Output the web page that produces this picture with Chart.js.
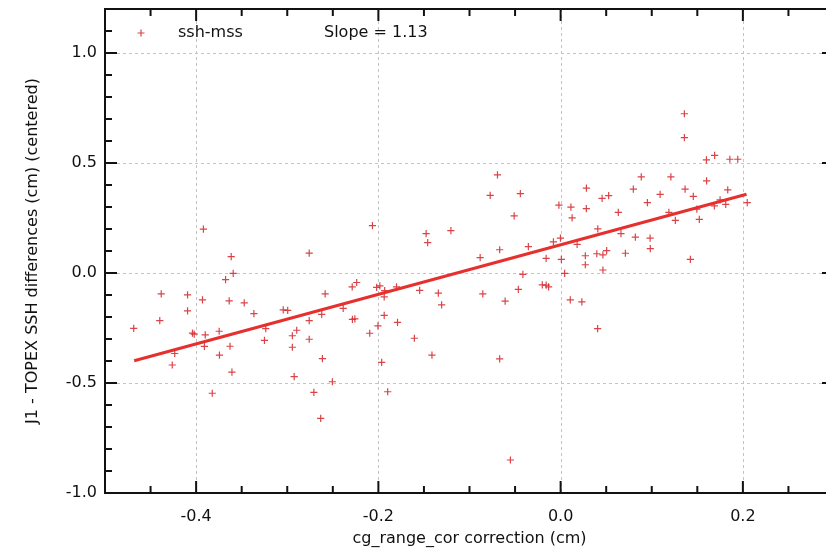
<!DOCTYPE html>
<html><head><meta charset="utf-8">
<script src="https://cdn.jsdelivr.net/npm/chart.js@4/dist/chart.umd.min.js"></script>
<style>
html,body{margin:0;padding:0;overflow:hidden;background:#fff;width:826px;height:551px}
canvas{display:block}
</style></head>
<body><canvas id="c" width="850" height="551" style="width:850px;height:551px"></canvas>
<script>
// ---- data ----
const xVals = [
 -0.4685,-0.4383,-0.4399,-0.4262,-0.4235,-0.4094,-0.4094,-0.4040,-0.4021,-0.3930,
 -0.3900,-0.3909,-0.3823,-0.3747,-0.3744,-0.3677,-0.3615,-0.3593,-0.3637,-0.3628,
 -0.3607,-0.3472,-0.3366,-0.3236,-0.3250,-0.3044,-0.2995,-0.2944,-0.2896,-0.2944,
 -0.2924,-0.2759,-0.2759,-0.2759,-0.2708,-0.2633,-0.2614,-0.2622,-0.2584,-0.2505,
 -0.2386,-0.2287,-0.2238,-0.2285,-0.2258,-0.2095,-0.2019,-0.1984,-0.2005,-0.1931,
 -0.1936,-0.1936,-0.1964,-0.1898,-0.1801,-0.1790,-0.1605,-0.1547,-0.1412,-0.1342,
 -0.1306,-0.3920,-0.2065,-0.1476,-0.1459,-0.1204,-0.0883,-0.0854,-0.0773,-0.0693,
 -0.0669,-0.0669,-0.0609,-0.0551,-0.0510,-0.0442,-0.0464,-0.0414,-0.0354,-0.0201,
 -0.0159,-0.0132,-0.0159,-0.0079,-0.0002, 0.0008, 0.0044,-0.0019, 0.0113, 0.0126,
  0.0181, 0.0106, 0.0233, 0.0271, 0.0271, 0.0283, 0.0282, 0.0397, 0.0464, 0.0505,
  0.0464, 0.0406, 0.0408, 0.0455, 0.0527, 0.0633, 0.0662, 0.0711, 0.0798, 0.0820,
  0.0885, 0.0952, 0.0982, 0.0984, 0.1092, 0.1188, 0.1210, 0.1259, 0.1358, 0.1358,
  0.1366, 0.1424, 0.1456, 0.1495, 0.1522, 0.1600, 0.1690, 0.1602, 0.1687, 0.1750,
  0.1812, 0.1834, 0.1857, 0.1944, 0.2048
];
const yVals = [
 -0.2517,-0.0952,-0.2163,-0.4181,-0.3660,-0.0998,-0.1719,-0.2730,-0.2775,-0.1224,
 -0.2812,-0.3333,-0.5465,-0.2648,-0.3737,-0.0304, 0.0748,-0.0018,-0.1270,-0.3329,
 -0.4508,-0.1356,-0.1846,-0.2526,-0.3061,-0.1673,-0.1701,-0.2853,-0.2603,-0.3374,
 -0.4712, 0.0907,-0.2163,-0.3011,-0.5428,-0.6607,-0.3896,-0.1877,-0.0952,-0.4943,
 -0.1605,-0.0630,-0.0431,-0.2109,-0.2082,-0.2739,-0.0653,-0.0585,-0.2404,-0.0803,
 -0.1088,-0.1927,-0.4059,-0.5397,-0.0630,-0.2245,-0.2966,-0.0789,-0.3737,-0.0916,
 -0.1447, 0.1995, 0.2154, 0.1791, 0.1383, 0.1927, 0.0703,-0.0952, 0.3528, 0.4458,
  0.1057,-0.3900,-0.1279,-0.8499, 0.2599, 0.3605,-0.0748,-0.0063, 0.1202,-0.0544,
 -0.0553,-0.0630, 0.0662, 0.1419, 0.1587, 0.0617,-0.0018, 0.3084, 0.2993, 0.2508,
  0.1302,-0.1224,-0.1311, 0.0785, 0.0376, 0.3855, 0.2925, 0.0875, 0.0821, 0.1020,
  0.0136,-0.2526, 0.2009, 0.3392, 0.3519, 0.2757, 0.1791, 0.0898, 0.3810, 0.1633,
  0.4367, 0.3202, 0.1587, 0.1111, 0.3574, 0.2757, 0.4367, 0.2394, 0.7238, 0.6150,
  0.3810, 0.0617, 0.3483, 0.2907, 0.2440, 0.5138, 0.5351, 0.4186, 0.3052, 0.3324,
  0.3120, 0.3778, 0.5170, 0.5170, 0.3202
];
const fitX = [-0.468, 0.204];
const fitY = [-0.399, 0.358];
const xTicks = [-0.4, -0.2, 0.0, 0.2];
const yTicks = [-1.0, -0.5, 0.0, 0.5, 1.0];
const xMinorStep = 0.05, yMinorStep = 0.1;
const seriesName = 'ssh-mss';
const slopeText = 'Slope = 1.13';
const xTitle = 'cg_range_cor correction (cm)';
const yTitle = 'J1 - TOPEX SSH differences (cm) (centered)';

const FONT = 'DejaVu Sans';
const pts = xVals.map((x, i) => ({x, y: yVals[i]}));
const fit = fitX.map((x, i) => ({x, y: fitY[i]}));

const frame = {
  id: 'frame',
  beforeDatasetsDraw(chart) {
    const {ctx, chartArea: a, scales: {x, y}} = chart;
    ctx.save();
    ctx.strokeStyle = '#c4c4c4';
    ctx.lineWidth = 1;
    ctx.setLineDash([3, 3]);
    xTicks.forEach(v => {
      const p = Math.round(x.getPixelForValue(v)) + 0.5;
      ctx.beginPath(); ctx.moveTo(p, a.top); ctx.lineTo(p, a.bottom); ctx.stroke();
    });
    yTicks.forEach(v => {
      if (v <= y.min || v >= y.max) return;
      const p = Math.round(y.getPixelForValue(v)) + 0.5;
      ctx.beginPath(); ctx.moveTo(a.left, p); ctx.lineTo(a.right, p); ctx.stroke();
    });
    ctx.restore();
  },
  afterDraw(chart) {
    const {ctx, chartArea: a, scales: {x, y}} = chart;
    ctx.save();
    ctx.strokeStyle = '#111';
    ctx.lineWidth = 2;
    ctx.setLineDash([]);
    ctx.strokeRect(a.left, a.top, a.right - a.left, a.bottom - a.top);
    const near = (v, arr) => arr.some(t => Math.abs(t - v) < 1e-6);
    for (let k = Math.ceil(x.min / xMinorStep - 1e-6); k * xMinorStep <= x.max + 1e-6; k++) {
      const v = k * xMinorStep;
      const len = near(v, xTicks) ? 12 : 7;
      const p = x.getPixelForValue(v);
      ctx.beginPath();
      ctx.moveTo(p, a.bottom); ctx.lineTo(p, a.bottom - len);
      ctx.moveTo(p, a.top); ctx.lineTo(p, a.top + len);
      ctx.stroke();
    }
    for (let k = Math.ceil(y.min / yMinorStep - 1e-6); k * yMinorStep <= y.max + 1e-6; k++) {
      const v = k * yMinorStep;
      const len = near(v, yTicks) ? 12 : 7;
      const p = y.getPixelForValue(v);
      ctx.beginPath();
      ctx.moveTo(a.left, p); ctx.lineTo(a.left + len, p);
      ctx.moveTo(a.right, p); ctx.lineTo(a.right - len, p);
      ctx.stroke();
    }
    // legend
    const lx = a.left + 36, ly = a.top + 24;
    ctx.strokeStyle = 'rgba(214,48,52,0.9)';
    ctx.lineWidth = 1.2;
    ctx.beginPath();
    ctx.moveTo(lx - 3.5, ly); ctx.lineTo(lx + 3.5, ly);
    ctx.moveTo(lx, ly - 3.5); ctx.lineTo(lx, ly + 3.5);
    ctx.stroke();
    ctx.fillStyle = '#111';
    ctx.font = '16px "' + FONT + '"';
    ctx.textBaseline = 'middle';
    ctx.textAlign = 'left';
    ctx.fillText(seriesName, a.left + 73, ly);
    ctx.fillText(slopeText, a.left + 219, ly);
    ctx.restore();
  }
};

new Chart(document.getElementById('c'), {
  data: {
    datasets: [
      {type: 'line', data: fit, borderColor: '#e6302e', borderWidth: 3,
       pointRadius: 0, fill: false, tension: 0},
      {type: 'scatter', data: pts, pointStyle: 'cross', pointRadius: 3.6,
       borderColor: 'rgba(214,48,52,0.9)', backgroundColor: 'rgba(214,48,52,0.9)',
       pointBorderWidth: 1.2, borderWidth: 1.2}
    ]
  },
  options: {
    responsive: false, animation: false,
    layout: {padding: {top: 9, right: 16, left: 0, bottom: 0}},
    plugins: {legend: {display: false}, tooltip: {enabled: false}},
    scales: {
      x: {
        type: 'linear', min: -0.5, max: 0.3,
        afterBuildTicks: s => { s.ticks = xTicks.map(v => ({value: v})); },
        afterFit: s => { s.height = 58; s.paddingLeft = 0; s.paddingRight = 0; },
        grid: {display: false, drawTicks: false},
        border: {display: false},
        ticks: {font: {family: FONT, size: 16}, color: '#111', padding: 14,
                maxRotation: 0, autoSkip: false,
                callback: v => v.toFixed(1)},
        title: {display: true, text: xTitle, font: {family: FONT, size: 16},
                color: '#111', padding: {top: 0, bottom: 3}}
      },
      y: {
        type: 'linear', min: -1.0, max: 1.2,
        afterBuildTicks: s => { s.ticks = yTicks.map(v => ({value: v})); },
        afterFit: s => { s.width = 105; s.paddingTop = 0; s.paddingBottom = 0; },
        grid: {display: false, drawTicks: false},
        border: {display: false},
        ticks: {font: {family: FONT, size: 16}, color: '#111', padding: 8,
                autoSkip: false, callback: v => v.toFixed(1)},
        title: {display: true, text: yTitle, font: {family: FONT, size: 16},
                color: '#111', padding: {top: 23, bottom: 0}}
      }
    }
  },
  plugins: [frame]
});
</script>
</body></html>
